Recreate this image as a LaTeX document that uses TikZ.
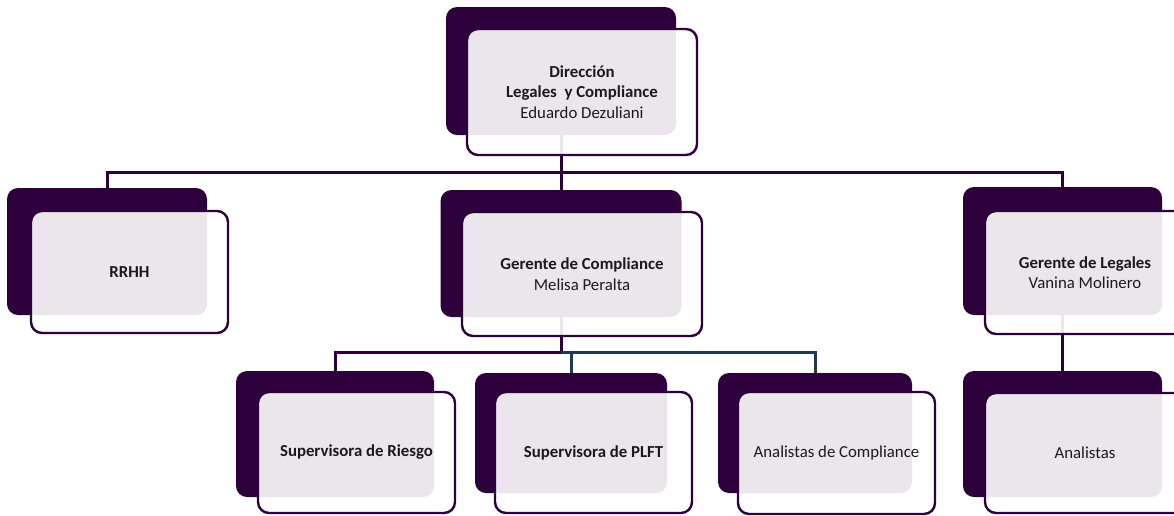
\documentclass[tikz,border=0pt]{standalone}
\usepackage{fontspec}
\setmainfont{Carlito}
\definecolor{dk}{HTML}{2D003C}
\definecolor{sl}{HTML}{1F3A4C}
\definecolor{tx}{HTML}{1A1A1A}
\begin{document}
\begin{tikzpicture}[x=1pt,y=-1pt,
  back/.style={fill=dk, rounded corners=11pt, inner sep=0pt},
  front/.style={fill=white, fill opacity=0.9, text opacity=1, draw=dk, line width=2.4pt,
    rounded corners=11pt, inner sep=0pt, align=center,
    font=\fontsize{16.8}{20.5}\selectfont, text=tx},
  link/.style={draw=dk, line width=3pt},
  link2/.style={draw=sl, line width=3pt}]
\useasboundingbox (0,0) rectangle (1174,515);
\clip (0,0) rectangle (1174,515);
% back boxes
\node[back, minimum width=230pt, minimum height=128pt] (top) at (561,71) {};
\node[back, minimum width=200pt, minimum height=127pt] (rrhh) at (107,251.5) {};
\node[back, minimum width=241pt, minimum height=127pt] (gc) at (561,253.5) {};
\node[back, minimum width=199pt, minimum height=128pt] (gl) at (1062.5,251) {};
\node[back, minimum width=198pt, minimum height=126pt] (ri) at (335,434) {};
\node[back, minimum width=192pt, minimum height=120pt] (pl) at (571,433) {};
\node[back, minimum width=194pt, minimum height=120pt] (ac) at (815,433) {};
\node[back, minimum width=199pt, minimum height=126pt] (an) at (1062.5,434) {};
% connectors
\coordinate (bus1) at (561,172);
\coordinate (bus2) at (561,352);
\draw[link] (top.south) -- (gc.north);
\draw[link] (rrhh.north) -- (rrhh.north |- bus1) -- (gl.north |- bus1) -- (gl.north);
\draw[link] (gc.south) -- (gc.south |- bus2);
\draw[link] (ri.north) -- (ri.north |- bus2) -- (gc.south |- bus2);
\draw[link2] (gc.south |- bus2) -- (ac.north |- bus2) -- (ac.north);
\draw[link2] (pl.north |- bus2) -- (pl.north);
\draw[link] (gl.south) -- (an.north);
% front boxes
\node[front, minimum width=230pt, minimum height=126pt] (topf) at (582,92)
  {\bfseries Dirección\\ \bfseries Legales\ \ y Compliance\\ Eduardo Dezuliani};
\node[front, minimum width=197pt, minimum height=122pt] (rrhhf) at (129.5,272) {\bfseries RRHH};
\node[front, minimum width=240pt, minimum height=124pt] (gcf) at (582,274)
  {\bfseries Gerente de Compliance\\ Melisa Peralta};
\node[front, minimum width=200pt, minimum height=123pt] (glf) at (1085,272.5)
  {\bfseries Gerente de Legales\\ Vanina Molinero};
\node[front, minimum width=197pt, minimum height=121pt] (rif) at (356.5,452.5) {\bfseries Supervisora de Riesgo};
\node[front, minimum width=197pt, minimum height=121pt] (plf) at (593.5,452.5) {\bfseries Supervisora de PLFT};
\node[front, minimum width=197pt, minimum height=122pt] (acf) at (836.5,453) {Analistas de Compliance};
\node[front, minimum width=200pt, minimum height=120pt] (anf) at (1085,453) {Analistas};
\end{tikzpicture}
\end{document}
